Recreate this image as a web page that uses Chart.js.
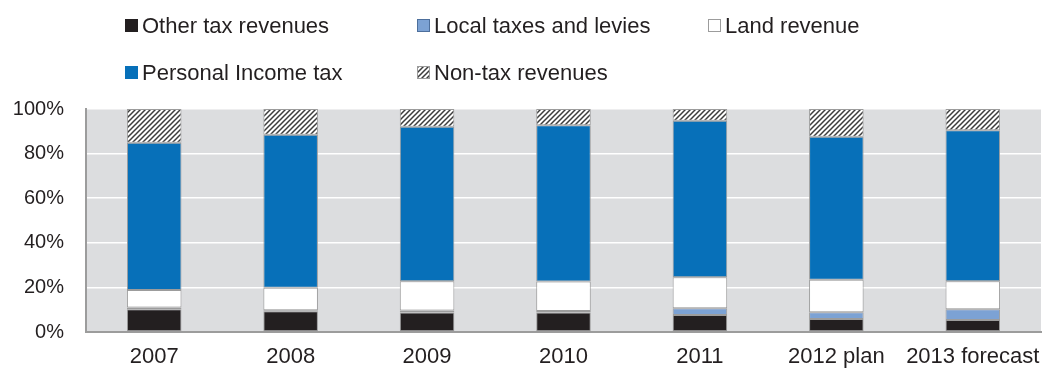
<!DOCTYPE html>
<html>
<head>
<meta charset="utf-8">
<script src="https://cdn.jsdelivr.net/npm/chart.js@4.4.1/dist/chart.umd.min.js"></script>
<style>
  html, body { margin: 0; padding: 0; background: #ffffff; }
  #wrap { position: relative; width: 1043px; height: 369px; }
</style>
</head>
<body>
<div id="wrap"><canvas id="c" width="1043" height="369"></canvas></div>
<script>
// Revenue structure, share of total (%)
const categories = ['2007', '2008', '2009', '2010', '2011', '2012 plan', '2013 forecast'];
const otherTax = [10.2, 9.3, 8.7, 8.8, 7.6, 5.8, 5.4];
const localTaxes = [0.8, 0.5, 0.9, 0.6, 3.0, 3.1, 4.8];
const landRevenue = [7.8, 10.0, 13.2, 13.3, 14.0, 14.5, 12.6];
const personalIncome = [66.1, 68.6, 69.2, 70.0, 70.1, 64.2, 67.7];
const nonTax = [15.1, 11.6, 8.0, 7.3, 5.3, 12.4, 9.5];
const yTicks = [0, 20, 40, 60, 80, 100];

const FONT = "'Liberation Sans', Arial, sans-serif";
const TEXT = '#231f20';
const EDGE = '#9c9c9c';

// Diagonal hatch fill for non-tax revenues
function makeHatch() {
  const s = 5;
  const p = document.createElement('canvas');
  p.width = s; p.height = s;
  const g = p.getContext('2d');
  g.fillStyle = '#ffffff';
  g.fillRect(0, 0, s, s);
  g.strokeStyle = '#3c3c3c';
  g.lineWidth = 1.5;
  g.beginPath();
  g.moveTo(-1, s + 1); g.lineTo(s + 1, -1);
  g.moveTo(-1, 1); g.lineTo(1, -1);
  g.moveTo(s - 1, s + 1); g.lineTo(s + 1, s - 1);
  g.stroke();
  return document.getElementById('c').getContext('2d').createPattern(p, 'repeat');
}
const hatch = makeHatch();

const series = [
  { label: 'Other tax revenues', data: otherTax, fill: '#231f20', swatchEdge: '#231f20' },
  { label: 'Local taxes and levies', data: localTaxes, fill: '#7ca2d4', swatchEdge: '#4d6f9c' },
  { label: 'Land revenue', data: landRevenue, fill: '#ffffff', swatchEdge: '#9c9c9c' },
  { label: 'Personal Income tax', data: personalIncome, fill: '#0770b9', swatchEdge: '#0770b9' },
  { label: 'Non-tax revenues', data: nonTax, fill: hatch, swatchEdge: '#9c9c9c' }
];

// Grey plotting background behind the bars
const plotBackground = {
  id: 'plotBackground',
  beforeDraw(chart) {
    const a = chart.chartArea, ctx = chart.ctx;
    ctx.save();
    ctx.fillStyle = '#dcdddf';
    ctx.fillRect(a.left, a.top, a.right - a.left, a.bottom - a.top);
    ctx.restore();
  }
};

// Two-row legend laid out in three columns
const gridLegend = {
  id: 'gridLegend',
  afterDraw(chart) {
    const ctx = chart.ctx;
    const colX = [125, 417, 708];
    const rowY = [25, 72.5];
    const box = 13;
    ctx.save();
    ctx.font = '22px ' + FONT;
    ctx.textBaseline = 'alphabetic';
    ctx.textAlign = 'left';
    chart.data.datasets.forEach((ds, i) => {
      const x = colX[i % 3];
      const cy = rowY[Math.floor(i / 3)];
      const y = Math.round(cy - box / 2);
      ctx.fillStyle = ds.backgroundColor;
      ctx.fillRect(x, y, box, box);
      ctx.strokeStyle = series[i].swatchEdge;
      ctx.lineWidth = 1;
      ctx.strokeRect(x + 0.5, y + 0.5, box - 1, box - 1);
      ctx.fillStyle = TEXT;
      ctx.fillText(ds.label, x + box + 4, cy + 7.8);
    });
    ctx.restore();
  }
};

new Chart(document.getElementById('c'), {
  type: 'bar',
  data: {
    labels: categories,
    datasets: series.map(s => ({
      label: s.label,
      data: s.data,
      backgroundColor: s.fill,
      borderColor: EDGE,
      borderWidth: 1,
      borderSkipped: false,
      categoryPercentage: 1,
      barPercentage: 0.4
    }))
  },
  options: {
    responsive: false,
    devicePixelRatio: 1,
    animation: false,
    layout: { padding: { top: 109, right: 2, left: 0, bottom: 0 } },
    plugins: {
      legend: { display: false },
      tooltip: { enabled: false },
      title: { display: false }
    },
    scales: {
      x: {
        stacked: true,
        grid: { display: false, drawTicks: false },
        border: { display: true, color: '#9c9c9c', width: 2 },
        ticks: {
          color: TEXT,
          font: { family: FONT, size: 22 },
          padding: 12,
          autoSkip: false,
          maxRotation: 0
        },
        afterFit(scale) {
          scale.height = 37;
          scale.paddingLeft = 0;
          scale.paddingRight = 0;
        }
      },
      y: {
        stacked: true,
        min: 0,
        max: 100,
        grid: { color: '#ffffff', lineWidth: 1.5, drawTicks: false },
        border: { display: true, color: '#9c9c9c', width: 2 },
        ticks: {
          color: TEXT,
          font: { family: FONT, size: 20 },
          padding: 22,
          callback: v => v + '%'
        },
        afterBuildTicks(scale) { scale.ticks = yTicks.map(v => ({ value: v })); },
        afterFit(scale) {
          scale.width = 86;
          scale.paddingTop = 0;
          scale.paddingBottom = 0;
        }
      }
    }
  },
  plugins: [plotBackground, gridLegend]
});
</script>
</body>
</html>
